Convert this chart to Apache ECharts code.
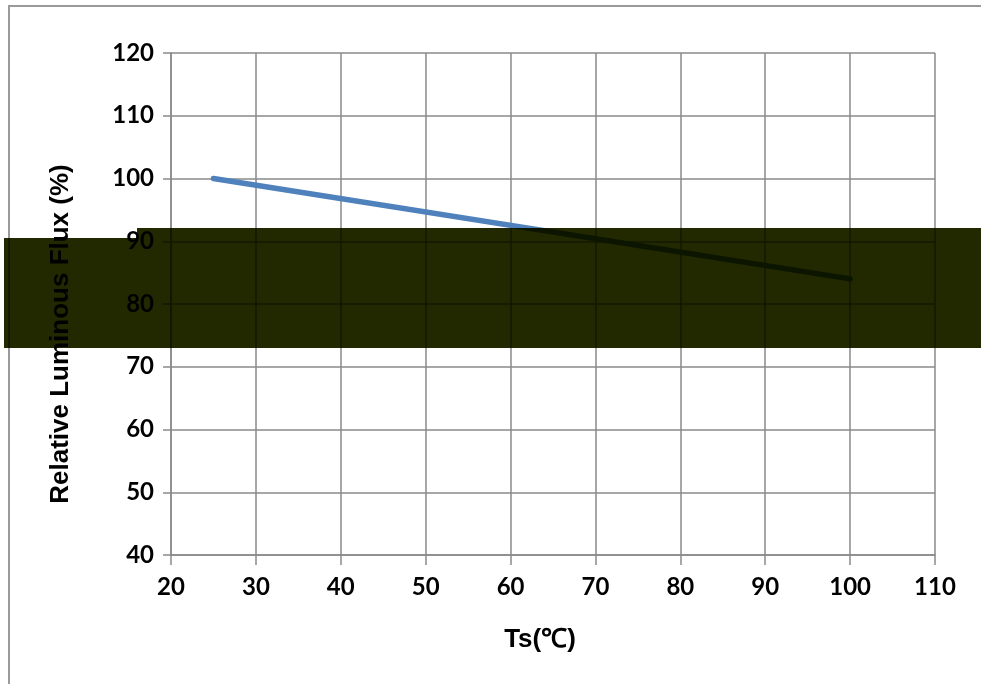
<!DOCTYPE html>
<html>
<head>
<meta charset="utf-8">
<script src="https://cdn.jsdelivr.net/npm/echarts@6/dist/echarts.min.js"></script>
<style>
html,body{margin:0;padding:0;background:#fff;}
#chart{width:981px;height:684px;}
</style>
</head>
<body>
<div id="chart"></div>
<script>
// Data
var temperatureC = [25, 100];
var relativeFlux = [100, 84];
var xTicks = { min: 20, max: 110, step: 10 };
var yTicks = { min: 40, max: 120, step: 10 };
var xName = 'Ts(\u2103)';
var yName = 'Relative Luminous Flux (%)';

var chart = echarts.init(document.getElementById('chart'), null, { renderer: 'canvas' });
var gridColor = '#8a8a8a';
var tickFont = { fontFamily: 'Lato', fontWeight: 'bold', fontSize: 24, color: '#000' };

var option = {
  backgroundColor: '#fff',
  animation: false,
  grid: { left: 171, right: 46, top: 53, bottom: 129, containLabel: false },
  xAxis: {
    type: 'value',
    min: xTicks.min, max: xTicks.max, interval: xTicks.step,
    name: xName,
    nameLocation: 'middle',
    nameGap: 72,
    nameTextStyle: { fontFamily: 'Liberation Sans', fontWeight: 'bold', fontSize: 26, color: '#000', padding: [0, 26, 0, 0] },
    axisLine: { show: true, lineStyle: { color: gridColor, width: 1.5 } },
    axisTick: { show: true, length: 10, lineStyle: { color: gridColor, width: 1.5 } },
    axisLabel: Object.assign({ margin: 20 }, tickFont),
    splitLine: { show: true, lineStyle: { color: gridColor, width: 1.5 } }
  },
  yAxis: {
    type: 'value',
    min: yTicks.min, max: yTicks.max, interval: yTicks.step,
    axisLine: { show: true, lineStyle: { color: gridColor, width: 1.5 } },
    axisTick: { show: true, length: 8, lineStyle: { color: gridColor, width: 1.5 } },
    axisLabel: Object.assign({ margin: 17 }, tickFont),
    splitLine: { show: true, lineStyle: { color: gridColor, width: 1.5 } }
  },
  series: [{
    type: 'line',
    data: temperatureC.map(function (t, i) { return [t, relativeFlux[i]]; }),
    showSymbol: false,
    lineStyle: { color: '#4f81bd', width: 5.5, cap: 'round' },
    z: 3
  }],
  graphic: [
    {
      type: 'text', z: 50, silent: true,
      x: 61, y: 334, rotation: Math.PI / 2,
      style: {
        text: yName, fill: '#000',
        font: 'bold 26px "Liberation Sans"',
        textAlign: 'center', textVerticalAlign: 'middle'
      }
    },
    {
      type: 'rect', z: 100, silent: true,
      shape: { x: 9, y: 6, width: 1000, height: 700 },
      style: { fill: 'none', stroke: '#9a9a9a', lineWidth: 2 }
    },
    {
      type: 'rect', z: 200, silent: true,
      shape: { x: 4, y: 238, width: 133, height: 110 },
      style: { fill: '#222800', blend: 'multiply' }
    },
    {
      type: 'rect', z: 200, silent: true,
      shape: { x: 137, y: 228, width: 844, height: 120 },
      style: { fill: '#222800', blend: 'multiply' }
    }
  ]
};
chart.setOption(option);
</script>
</body>
</html>
